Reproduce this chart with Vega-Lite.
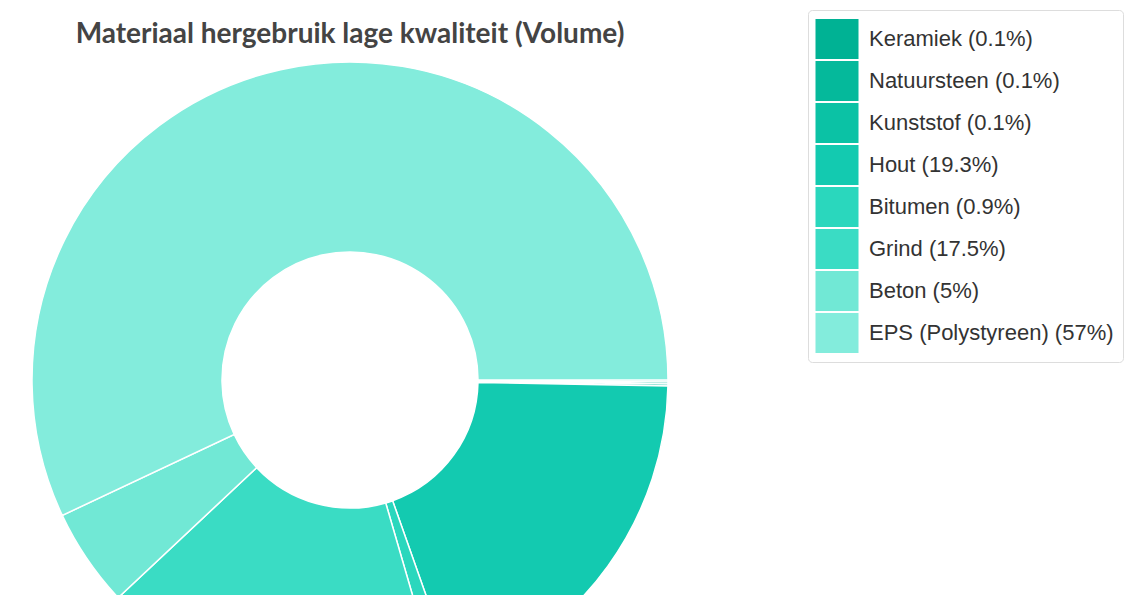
{
  "$schema": "https://vega.github.io/schema/vega-lite/v6.json",
  "autosize": {"type": "none"},
  "width": 700,
  "height": 400,
  "padding": {"left": 0, "top": 180, "right": 434, "bottom": 15},
  "background": "white",
  "title": {
    "text": "Materiaal hergebruik lage kwaliteit (Volume)",
    "font": "Lato",
    "fontSize": 28,
    "fontWeight": "bold",
    "color": "#444444",
    "anchor": "middle",
    "offset": -39
  },
  "data": {
    "values": [
      {"materiaal": "Keramiek (0.1%)", "volume": 0.1, "idx": 1},
      {"materiaal": "Natuursteen (0.1%)", "volume": 0.1, "idx": 2},
      {"materiaal": "Kunststof (0.1%)", "volume": 0.1, "idx": 3},
      {"materiaal": "Hout (19.3%)", "volume": 19.3, "idx": 4},
      {"materiaal": "Bitumen (0.9%)", "volume": 0.9, "idx": 5},
      {"materiaal": "Grind (17.5%)", "volume": 17.5, "idx": 6},
      {"materiaal": "Beton (5%)", "volume": 5, "idx": 7},
      {"materiaal": "EPS (Polystyreen) (57%)", "volume": 57, "idx": 8}
    ]
  },
  "mark": {"type": "arc", "outerRadius": 318, "innerRadius": 128, "stroke": "#ffffff", "strokeWidth": 1.5},
  "encoding": {
    "theta": {"field": "volume", "type": "quantitative", "stack": true, "scale": {"range": [1.5708, 7.854]}},
    "order": {"field": "idx", "type": "quantitative"},
    "color": {
      "field": "materiaal",
      "type": "nominal",
      "sort": null,
      "scale": {
        "domain": ["Keramiek (0.1%)", "Natuursteen (0.1%)", "Kunststof (0.1%)", "Hout (19.3%)", "Bitumen (0.9%)", "Grind (17.5%)", "Beton (5%)", "EPS (Polystyreen) (57%)"],
        "range": ["#00b294", "#05b99b", "#0bc2a5", "#13cab0", "#2ad7bd", "#3adcc4", "#71e8d5", "#83ecdc"]
      },
      "legend": {
        "title": null,
        "orient": "none",
        "legendX": 808,
        "legendY": -170,
        "symbolType": "M-1.075,-1H1.075V1H-1.075Z",
        "symbolSize": 1600,
        "symbolStrokeWidth": 0,
        "symbolOpacity": 1,
        "rowPadding": 2,
        "labelOffset": 12,
        "labelFont": "Liberation Sans",
        "labelFontSize": 22,
        "labelColor": "#333333",
        "labelLimit": 400,
        "padding": 9,
        "strokeColor": "#dddddd",
        "cornerRadius": 4,
        "fillColor": "#ffffff"
      }
    }
  },
  "config": {"view": {"stroke": null}}
}
